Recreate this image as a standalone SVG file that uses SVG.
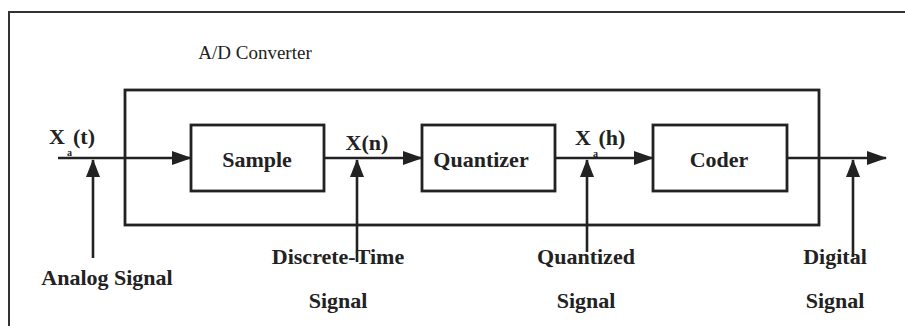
<svg xmlns="http://www.w3.org/2000/svg" width="905" height="326" viewBox="0 0 905 326">
<defs>
<marker id="ah" markerWidth="20" markerHeight="14" refX="19" refY="7" orient="auto" markerUnits="userSpaceOnUse">
<path d="M0,0 L20,7 L0,14 Z" fill="#222"/>
</marker>
<marker id="av" markerWidth="18" markerHeight="14" refX="17" refY="7" orient="auto" markerUnits="userSpaceOnUse">
<path d="M0,0 L18,7 L0,14 Z" fill="#222"/>
</marker>
</defs>
<style>
.box{fill:none;stroke:#222;stroke-width:2.8}
.frame{fill:none;stroke:#333;stroke-width:2}
.ln{fill:none;stroke:#222;stroke-width:2.6}
.lbl{font-family:"Liberation Serif","Times New Roman",serif;font-size:22px;font-weight:bold;fill:#222;text-anchor:middle}
.ttl{font-family:"Liberation Serif","Times New Roman",serif;font-size:19px;fill:#222;text-anchor:middle}
.sub{font-family:"Liberation Serif","Times New Roman",serif;font-size:10px;font-weight:bold;fill:#222}
</style>
<rect width="905" height="326" fill="#fff"/>
<rect class="frame" x="9" y="12" width="1000" height="400"/>
<text class="ttl" x="255" y="59">A/D Converter</text>
<g id="converter"><rect class="box" x="125" y="90" width="694" height="135"/></g>
<g id="sample"><rect class="box" x="191" y="125" width="133" height="66"/><text class="lbl" x="257" y="167">Sample</text></g>
<g id="quantizer"><rect class="box" x="422" y="125" width="133" height="66"/><text class="lbl" x="481" y="167">Quantizer</text></g>
<g id="coder"><rect class="box" x="653" y="125" width="134" height="66"/><text class="lbl" x="719" y="167">Coder</text></g>
<g id="connectors">
<line class="ln" x1="58" y1="158" x2="191" y2="158" marker-end="url(#ah)"/>
<line class="ln" x1="324" y1="158" x2="422" y2="158" marker-end="url(#ah)"/>
<line class="ln" x1="555" y1="158" x2="653" y2="158" marker-end="url(#ah)"/>
<line class="ln" x1="787" y1="158" x2="886" y2="158" marker-end="url(#ah)"/>
<line class="ln" x1="93" y1="258" x2="93" y2="160" marker-end="url(#av)"/>
<line class="ln" x1="357" y1="262" x2="357" y2="160" marker-end="url(#av)"/>
<line class="ln" x1="587" y1="252" x2="587" y2="160" marker-end="url(#av)"/>
<line class="ln" x1="853" y1="257" x2="853" y2="160" marker-end="url(#av)"/>
</g>
<g id="labels">
<text class="lbl" x="57" y="144">X</text><text class="sub" x="67" y="156">a</text><text class="lbl" x="84" y="144">(t)</text>
<text class="lbl" x="367" y="150">X(n)</text>
<text class="lbl" x="583" y="145">X</text><text class="sub" x="593" y="157">a</text><text class="lbl" x="612" y="145">(h)</text>
<text class="lbl" x="107" y="285">Analog Signal</text>
<text class="lbl" x="338" y="264">Discrete-Time</text>
<text class="lbl" x="338" y="308">Signal</text>
<text class="lbl" x="586" y="264">Quantized</text>
<text class="lbl" x="586" y="308">Signal</text>
<text class="lbl" x="835" y="264">Digital</text>
<text class="lbl" x="835" y="308">Signal</text>
</g>
</svg>
